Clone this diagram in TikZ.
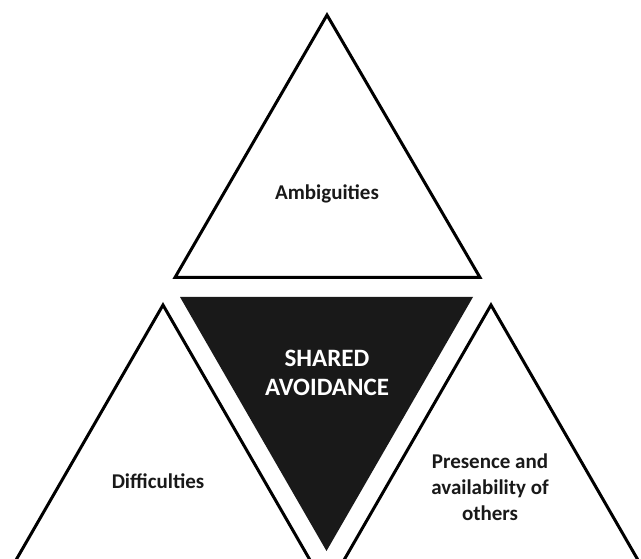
\documentclass[tikz,border=0pt]{standalone}
\usepackage{fontspec}
\setmainfont{Carlito}
\usepackage{tikz}

\tikzset{
    tri/.style={draw=black, line width=3pt, line join=miter, fill=white},
    label/.style={font=\bfseries\fontsize{21}{26}\selectfont, align=center, text=black!90},
}

\begin{document}
\begin{tikzpicture}[x=1pt, y=-1pt]
    \useasboundingbox (0,0) rectangle (641,559);
    \clip (0,0) rectangle (641,559);

    % top, left and right triangles
    \draw[tri] (327,15) -- (480,277.5) -- (175,277.5) -- cycle;
    \draw[tri] (163,305) -- (314,567) -- (12,567) -- cycle;
    \draw[tri] (491,305) -- (642,567) -- (340,567) -- cycle;

    % middle one, upside down
    \fill[black!90] (180,297) -- (473,297) -- (326.5,551) -- cycle;

    \node[label] (amb) at (327,194) {Ambiguities};
    \node[label] (dif) at (158,481) {Difficulties};
    \node[label] (pres) at (490,487) {Presence and\\availability of\\others};
    \node[label, font=\bfseries\fontsize{25}{29}\selectfont, text=white] (avoid) at (327,373) {SHARED\\AVOIDANCE};
\end{tikzpicture}
\end{document}
